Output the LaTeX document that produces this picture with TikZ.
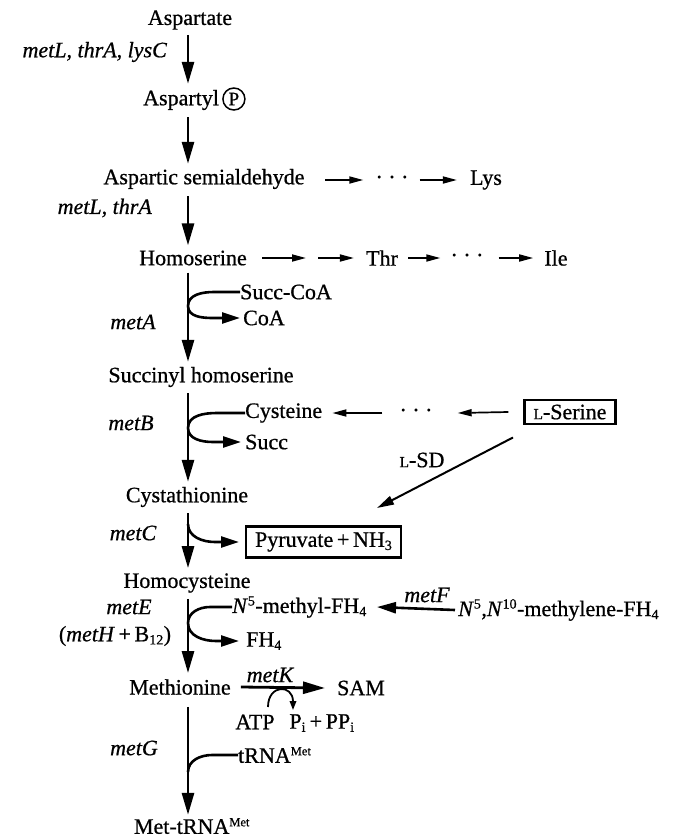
\documentclass[tikz,border=0pt]{standalone}
\usepackage{fontspec}
\setmainfont{Liberation Serif}[FakeBold=0.7]
\usetikzlibrary{arrows.meta,calc}
% small-capital L for the L- prefix of amino acids
\newcommand{\scL}{{\fontsize{15.5}{15.5}\selectfont L}}
\newcommand{\supMet}{\textsuperscript{\fontsize{12.5}{12.5}\selectfont Met}}
\newcommand{\up}[1]{\textsuperscript{\fontsize{14}{14}\selectfont #1}}
\newcommand{\dn}[1]{\textsubscript{\fontsize{14}{14}\selectfont #1}}
\begin{document}
\begin{tikzpicture}[x=1pt,y=-1pt,
  every node/.style={font=\fontsize{22}{25}\selectfont, inner sep=0pt},
  gene/.style={font=\fontsize{22}{25}\selectfont\itshape},
  mainarr/.style={line width=2.8pt, -{Triangle[length=22pt,width=12pt]}},
  sidearr/.style={line width=2.6pt, -{Triangle[length=18pt,width=11pt]}},
  sideline/.style={line width=2.6pt},
  thinarr/.style={line width=1.7pt, -{Triangle[length=14pt,width=7pt]}},
  smallarr/.style={line width=1.8pt, -{Triangle[length=9pt,width=6.5pt]}},
  boxed/.style={draw, line width=2.2pt, inner xsep=9pt, inner ysep=6pt},
]
\useasboundingbox (0,0) rectangle (677,838);

% pathway axis
\coordinate (ax) at (188,0);

% ---- aspartate -> homoserine ----
\node (asp) at (190,20) {Aspartate};
\node[gene, anchor=east] (g1) at (167,52) {metL, thrA, lysC};
\node[anchor=west] (aspl) at (143,100) {Aspartyl};
\node[circle, draw, line width=1.5pt, minimum size=22pt, anchor=west,
      font=\fontsize{19}{19}\selectfont] (pc) at ([xshift=3pt,yshift=1pt]aspl.east) {P};
\node (asa) at (204,179) {Aspartic semialdehyde};
\node[gene, anchor=east] (g2) at (152,208) {metL, thrA};
\node (hs) at (193,258) {Homoserine};

\draw[mainarr] ([yshift=-5pt]asp.south -| ax) -- ([yshift=6pt]aspl.north -| ax);
\draw[mainarr] ([yshift=-7pt]aspl.south -| ax) -- ([yshift=5pt]asa.north -| ax);
\draw[mainarr] ([yshift=-7pt]asa.south -| ax) -- ([yshift=5pt]hs.north -| ax);

% lysine branch
\coordinate (lysA) at (325,180);
\node (dl) at (392,180) {· · ·};
\node (lys) at (486,180) {Lys};
\draw[thinarr] (lysA) -- ([xshift=-12pt]dl.west);
\draw[thinarr] ([xshift=11pt]dl.east) -- ([xshift=-13pt]lys.west);

% threonine / isoleucine branch
\coordinate (thrA) at (262,258);
\coordinate (tgap) at (312,258);
\node (thr) at (382,258) {Thr};
\node (dt) at (467,258) {· · ·};
\node (ile) at (556,258) {Ile};
\draw[thinarr] (thrA) -- ([xshift=-6pt]tgap);
\draw[thinarr] ([xshift=6pt]tgap) -- ([xshift=-12pt]thr.west);
\draw[thinarr] ([xshift=10pt]thr.east) -- ([xshift=-10pt]dt.west);
\draw[thinarr] ([xshift=15pt]dt.east) -- ([xshift=-11pt]ile.west);

% ---- metA ----
\node[anchor=west] (sc) at (240,292) {Succ-CoA};
\node[anchor=west] (coa) at (243,318) {CoA};
\node[gene] (gA) at (133,322) {metA};
\node (sh) at (201,377) {Succinyl homoserine};
\coordinate (jA) at (188,306);
\draw[mainarr] ([yshift=-7pt]hs.south -| ax) -- ([yshift=5pt]sh.north -| ax);
\draw[sideline] (sc.west) -- ([xshift=-26pt]sc.west) to[out=180,in=90] (jA);
\draw[sidearr] (jA) to[out=-90,in=180] ([xshift=-30pt]coa.west) -- ([xshift=-3pt]coa.west);

% ---- metB ----
\node[anchor=west] (cys) at (245,413) {Cysteine};
\node[anchor=west] (succ) at (245,442) {Succ};
\node[gene] (gB) at (131,423) {metB};
\node (dc) at (416,413) {· · ·};
\node[boxed, inner ysep=5pt] (ser) at (570,412) {\scL-Serine};
\node (lsd) at (422,460) {\scL-SD};
\node (cth) at (187,497) {Cystathionine};
\coordinate (jB) at (188,428);
\draw[mainarr] ([yshift=-6pt]sh.south -| ax) -- ([yshift=5pt]cth.north -| ax);
\draw[sideline] (cys.west) -- ([xshift=-28pt]cys.west) to[out=180,in=90] (jB);
\draw[sidearr] (jB) to[out=-90,in=180] ([xshift=-32pt]succ.west) -- ([xshift=-4pt]succ.west);
\draw[thinarr] ([xshift=-17pt]dc.west) -- ([xshift=10pt]cys.east);
\draw[thinarr] ([xshift=-15pt]ser.west) -- ([xshift=25pt]dc.east);

% ---- metC ----
\node[gene] (gC) at (133,533) {metC};
\node[boxed, anchor=west] (pyr) at (245,542) {Pyruvate\,+\,NH\dn{3}};
\node (hcy) at (187,583) {Homocysteine};
\coordinate (jC) at (188,524);
\coordinate (sdEnd) at (377,508);
\draw[mainarr] ([yshift=-6pt]cth.south -| ax) -- ([yshift=5pt]hcy.north -| ax);
\draw[sidearr] (jC) to[out=-90,in=180] ([xshift=-30pt]pyr.west) -- ([xshift=-6pt]pyr.west);
\draw[line width=2pt, -{Triangle[length=17pt,width=9pt]}]
  ([xshift=-57pt,yshift=-12pt]ser.south) -- (sdEnd);

% ---- metE / metH ----
\node[gene] (gE) at (129,607) {metE};
\node (gH) at (115,636) {(\textit{metH}\,+\,B\dn{12})};
\node[anchor=west] (mfh) at (232,607) {\textit{N}\up{5}-methyl-FH\dn{4}};
\node[anchor=west] (fh) at (246,641) {FH\dn{4}};
\node[anchor=west] (mlf) at (458,610) {\textit{N}\up{5},\textit{N}\up{10}-methylene-FH\dn{4}};
\node[gene] (gF) at (427,595) {metF};
\node (met) at (180,687) {Methionine};
\coordinate (jE) at (188,623);
\draw[mainarr] ([yshift=-6pt]hcy.south -| ax) -- ([yshift=6pt]met.north -| ax);
\draw[sideline] (mfh.west) -- ([xshift=-22pt]mfh.west) to[out=180,in=90] (jE);
\draw[sidearr] (jE) to[out=-90,in=180] ([xshift=-30pt]fh.west) -- ([xshift=-7pt]fh.west);
\draw[line width=2.6pt, -{Triangle[length=19pt,width=11pt]}]
  ([xshift=-3pt]mlf.west) -- ([xshift=10pt]mfh.east);

% ---- metK ----
\node (sam) at (361,688) {SAM};
\node[gene] (gK) at (270,675) {metK};
\node (atp) at (255,722) {ATP};
\node (pi) at (322,723) {P\dn{i}\,+\,PP\dn{i}};
\coordinate (arcA) at (268,707);
\coordinate (arcB) at (293,710);
\draw[line width=2.8pt, -{Triangle[length=22pt,width=12pt]}]
  ([xshift=10pt]met.east) -- ([xshift=-12pt]sam.west);
\draw[smallarr] (arcA) .. controls (268,684) and (293,684) .. (arcB);

% ---- metG ----
\node[gene] (gG) at (134,748) {metG};
\node[anchor=west] (trna) at (238,755) {tRNA\supMet};
\node (mtr) at (192,826) {Met-tRNA\supMet};
\coordinate (jG) at (188,772);
\draw[mainarr] ([yshift=-12pt]met.south -| ax) -- ([yshift=3pt]mtr.north -| ax);
\draw[sideline] (trna.west) -- ([xshift=-26pt]trna.west) to[out=180,in=90] (jG);
\end{tikzpicture}
\end{document}
